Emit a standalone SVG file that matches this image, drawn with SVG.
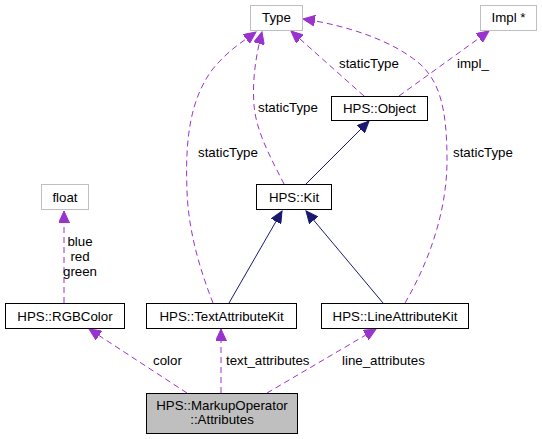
<svg xmlns="http://www.w3.org/2000/svg" width="542" height="439" viewBox="0 0 542 439">
<style>
text{font-family:"Liberation Sans",Arial,sans-serif;font-size:13.3px;fill:#000}
.n{fill:#fff;stroke:#000;stroke-width:1}
.g{fill:#fff;stroke:#bfbfbf;stroke-width:1}
.c{fill:#bfbfbf;stroke:#000;stroke-width:1}
.d{fill:none;stroke:#9a32cd;stroke-width:1;stroke-dasharray:6,4;marker-end:url(#pa)}
.s{fill:none;stroke:#191970;stroke-width:1;marker-end:url(#na)}
.m{text-anchor:middle}
</style>
<defs>
<marker id="pa" markerWidth="13" markerHeight="11" refX="12" refY="5.5" orient="auto" markerUnits="userSpaceOnUse"><path d="M0,0 L12,5.5 L0,11 z" fill="#9a32cd" stroke="#9a32cd"/></marker>
<marker id="na" markerWidth="13" markerHeight="11" refX="12" refY="5.5" orient="auto" markerUnits="userSpaceOnUse"><path d="M0,0 L12,5.5 L0,11 z" fill="#191970" stroke="#191970"/></marker>
</defs>
<g id="connectors">
<path class="d" d="M364,96 L291,31"/>
<path class="d" d="M399,96 L489,31"/>
<path class="d" d="M284,184 C272,160 256,132 254,105 C252,80 256,55 262,32"/>
<path class="d" d="M213,303 C200,270 188,230 187,190 C185,140 190,100 212,70 C228,50 245,40 256,32"/>
<path class="d" d="M405,303 C430,260 447,210 447,160 C447,110 440,82 420,64 C392,40 345,25 303,19"/>
<path class="s" d="M306,184 L369,121"/>
<path class="s" d="M229,303 L282,211"/>
<path class="s" d="M383,303 L306,211"/>
<path class="d" d="M64,303 L64,211"/>
<path class="d" d="M187,393 L89,329"/>
<path class="d" d="M221,393 L221,329"/>
<path class="d" d="M267,393 L376,329"/>
<text x="339" y="68">staticType</text>
<text x="457" y="68">impl_</text>
<text x="258" y="112">staticType</text>
<text x="198" y="157">staticType</text>
<text x="453" y="157">staticType</text>
<text class="m" x="80" y="246">blue</text>
<text class="m" x="80" y="261">red</text>
<text class="m" x="80" y="276">green</text>
<text x="153" y="365">color</text>
<text x="226" y="365">text_attributes</text>
<text x="342" y="365">line_attributes</text>
</g>
<g id="type"><rect class="g" x="250.5" y="5.5" width="52" height="25"/><text class="m" x="276.5" y="22">Type</text></g>
<g id="impl"><rect class="g" x="480.5" y="5.5" width="56" height="25"/><text class="m" x="508.5" y="22">Impl *</text></g>
<g id="object"><rect class="n" x="331.5" y="96.5" width="96" height="24"/><text class="m" x="379.5" y="113">HPS::Object</text></g>
<g id="kit"><rect class="n" x="256.5" y="184.5" width="75" height="25"/><text class="m" x="294" y="202">HPS::Kit</text></g>
<g id="float"><rect class="g" x="41.5" y="184.5" width="47" height="25"/><text class="m" x="65" y="202">float</text></g>
<g id="rgbcolor"><rect class="n" x="5.5" y="303.5" width="119" height="25"/><text class="m" x="65" y="321">HPS::RGBColor</text></g>
<g id="textattributekit"><rect class="n" x="146.5" y="303.5" width="150" height="25"/><text class="m" x="221.5" y="321">HPS::TextAttributeKit</text></g>
<g id="lineattributekit"><rect class="n" x="321.5" y="303.5" width="147" height="25"/><text class="m" x="395" y="321">HPS::LineAttributeKit</text></g>
<g id="attributes"><rect class="c" x="146.5" y="393.5" width="151" height="40"/><text class="m" x="222" y="410">HPS::MarkupOperator</text><text class="m" x="222" y="424">::Attributes</text></g>
</svg>
